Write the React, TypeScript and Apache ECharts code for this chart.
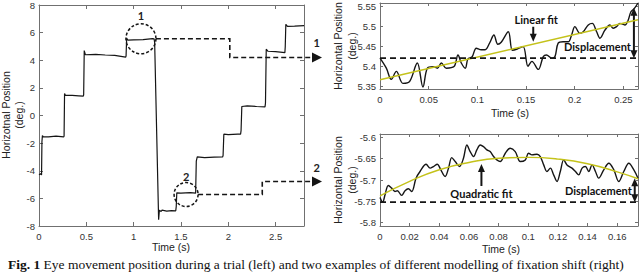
import React, { useEffect, useRef } from "react";
import * as echarts from "echarts";

// ---------- Left panel: full trial ----------
const trialPoints: [number, number][] = [
  [0, -4.3], [0.015, -4.22], [0.027, -4.3], [0.031, -1.9], [0.036, -1.45], [0.045, -1.55],
  [0.1, -1.55], [0.18, -1.5], [0.26, -1.55], [0.265, -1.5], [0.27, 1.6], [0.28, 1.45],
  [0.35, 1.45], [0.42, 1.42], [0.468, 1.4], [0.472, 1.5], [0.478, 4.7], [0.49, 4.4],
  [0.6, 4.42], [0.7, 4.38], [0.8, 4.35], [0.915, 4.22], [0.92, 4.3], [0.926, 5.6],
  [0.94, 5.45], [1.0, 5.47], [1.1, 5.5], [1.2, 5.56], [1.216, 5.55], [1.222, 5.3],
  [1.264, -7.55], [1.272, -6.85], [1.29, -6.95], [1.3, -6.85], [1.35, -6.92], [1.4, -6.88],
  [1.445, -6.9], [1.45, -6.6], [1.456, -5.6], [1.5, -5.62], [1.55, -5.6], [1.6, -5.58],
  [1.655, -5.62], [1.662, -3.3], [1.672, -3.0], [1.75, -3.05], [1.85, -3.02], [1.94, -3.0],
  [1.945, -2.9], [1.953, -1.35], [2.0, -1.38], [2.1, -1.35], [2.13, -1.35], [2.135, -1.1],
  [2.143, 0.65], [2.2, 0.7], [2.3, 0.65], [2.388, 0.62], [2.393, 0.9], [2.401, 4.8],
  [2.42, 4.65], [2.5, 4.62], [2.598, 4.55], [2.602, 5.0], [2.608, 6.6], [2.625, 6.45],
  [2.7, 6.47], [2.8, 6.5],
];
const trialXTicks = [0, 0.5, 1, 1.5, 2, 2.5];
const trialYTicks = [-8, -6, -4, -2, 0, 2, 4, 6, 8];

// ---------- Top right: fixation 1 ----------
const fix1Points: [number, number][] = [
  [0, 5.42], [0.0065, 5.395], [0.0116, 5.367], [0.0168, 5.387], [0.0236, 5.357], [0.0305, 5.362],
  [0.0383, 5.408], [0.0441, 5.348], [0.0486, 5.395], [0.0544, 5.399], [0.0589, 5.395], [0.063, 5.408],
  [0.0681, 5.395], [0.076, 5.399], [0.0801, 5.428], [0.0835, 5.408], [0.0876, 5.395], [0.0903, 5.418],
  [0.0945, 5.423], [0.0989, 5.445], [0.104, 5.441], [0.108, 5.441], [0.1126, 5.458], [0.117, 5.478],
  [0.121, 5.455], [0.1245, 5.46], [0.1318, 5.486], [0.136, 5.44], [0.141, 5.443], [0.147, 5.449],
  [0.152, 5.4], [0.156, 5.412], [0.1626, 5.392], [0.1677, 5.424], [0.171, 5.428], [0.1763, 5.42],
  [0.1797, 5.424], [0.183, 5.4575], [0.188, 5.461], [0.1934, 5.461], [0.1968, 5.478], [0.2002, 5.499],
  [0.2053, 5.482], [0.2088, 5.486], [0.2139, 5.503], [0.218, 5.507], [0.2225, 5.486], [0.2259, 5.47],
  [0.231, 5.49], [0.2361, 5.503], [0.2396, 5.495], [0.243, 5.499], [0.2464, 5.507], [0.2515, 5.503],
  [0.2549, 5.515], [0.2577, 5.536], [0.2611, 5.544], [0.265, 5.558],
];
const fix1LinearFit: [number, number][] = [[0, 5.366], [0.265, 5.516]];
const fix1Baseline = 5.42;
const fix1XTicks = [0, 0.05, 0.1, 0.15, 0.2, 0.25];
const fix1YTicks = [5.35, 5.4, 5.45, 5.5, 5.55];

// ---------- Bottom right: fixation 2 ----------
const fix2Points: [number, number][] = [
  [0, -5.7408], [0.0018, -5.7517], [0.0034, -5.7346], [0.0056, -5.7128], [0.0079, -5.719], [0.0101, -5.7268],
  [0.0117, -5.7252], [0.0146, -5.7361], [0.0169, -5.7252], [0.0191, -5.7206], [0.0214, -5.7268], [0.0243, -5.6957],
  [0.027, -5.6801], [0.0311, -5.663], [0.0338, -5.6723], [0.036, -5.6685], [0.0387, -5.663], [0.041, -5.6762],
  [0.0439, -5.6918], [0.0462, -5.6723], [0.0484, -5.6475], [0.0507, -5.6568], [0.0536, -5.6685], [0.0563, -5.649],
  [0.0586, -5.6179], [0.0608, -5.6334], [0.0631, -5.6451], [0.0653, -5.6296], [0.0676, -5.6179], [0.0698, -5.6218],
  [0.0721, -5.6296], [0.0743, -5.6334], [0.0766, -5.6451], [0.0788, -5.6529], [0.0811, -5.6568], [0.0845, -5.6373],
  [0.0878, -5.6257], [0.0912, -5.6334], [0.0946, -5.6568], [0.098, -5.6529], [0.1002, -5.6373], [0.1025, -5.6412],
  [0.1059, -5.6397], [0.1081, -5.6451], [0.1104, -5.6646], [0.1126, -5.6801], [0.1149, -5.6723], [0.1171, -5.6879],
  [0.1194, -5.7035], [0.1216, -5.6801], [0.1239, -5.6529], [0.1261, -5.6646], [0.1295, -5.6723], [0.1318, -5.6801],
  [0.134, -5.6879], [0.1363, -5.6723], [0.1385, -5.6685], [0.1408, -5.6801], [0.143, -5.6646], [0.1453, -5.6801],
  [0.1475, -5.6957], [0.1509, -5.6762], [0.1543, -5.6607], [0.1577, -5.6762], [0.161, -5.7035], [0.1644, -5.6801],
  [0.1678, -5.6607], [0.1712, -5.6762], [0.174, -5.6957],
];
const fix2QuadraticFit: [number, number][] = [
  [0, -5.737], [0.02, -5.703], [0.04, -5.676], [0.06, -5.659], [0.08, -5.649], [0.1, -5.647],
  [0.12, -5.651], [0.14, -5.662], [0.16, -5.681], [0.174, -5.697],
];
const fix2Baseline = -5.752;
const fix2XTicks = [0, 0.02, 0.04, 0.06, 0.08, 0.1, 0.12, 0.14, 0.16];
const fix2YTicks = [-5.8, -5.75, -5.7, -5.65, -5.6];

const AXIS_COLOR = "#707070";
const LABEL_COLOR = "#333333";
const TICK_FONT = '"Liberation Sans", Arial, sans-serif';
const ANNOT_FONT = 'Lato, "Open Sans", sans-serif';
const INK = "#151515";
const FIT_COLOR = "#c4c21a";

function axisPair(kind: "x" | "y", index: number, min: number, max: number, ticks: number[], tickLen: number) {
  const base: any = {
    type: "value",
    gridIndex: index,
    min,
    max,
    splitLine: { show: false },
    axisLine: { show: true, onZero: false, lineStyle: { color: AXIS_COLOR, width: 1 } },
    axisTick: { show: true, inside: true, length: tickLen, customValues: ticks, lineStyle: { color: AXIS_COLOR } },
  };
  const primary = {
    ...base,
    position: kind === "x" ? "bottom" : "left",
    axisLabel: {
      show: true,
      customValues: ticks,
      margin: kind === "x" ? 5 : 4,
      fontSize: 9.5,
      color: LABEL_COLOR,
      fontFamily: TICK_FONT,
    },
  };
  const mirror = {
    ...base,
    position: kind === "x" ? "top" : "right",
    axisLabel: { show: false },
  };
  return [primary, mirror];
}

export default function App() {
  const ref = useRef<HTMLDivElement>(null);

  useEffect(() => {
    if (!ref.current) return;
    const chart = echarts.init(ref.current, undefined, { renderer: "svg" });

    const xAxis = [
      ...axisPair("x", 0, 0, 2.8, trialXTicks, 4),
      ...axisPair("x", 1, 0, 0.265, fix1XTicks, 3),
      ...axisPair("x", 2, 0, 0.174, fix2XTicks, 3),
    ];
    const yAxis = [
      ...axisPair("y", 0, -8, 8, trialYTicks, 4),
      ...axisPair("y", 1, 5.343, 5.558, fix1YTicks, 3),
      ...axisPair("y", 2, -5.8077, -5.5923, fix2YTicks, 3),
    ];

    const lineBase = { type: "line", symbol: "none", showSymbol: false, silent: true };

    chart.setOption({
      animation: false,
      grid: [
        { left: 39, top: 4, width: 265, height: 222 },
        { left: 380, top: 3, width: 258, height: 86 },
        { left: 380, top: 134, width: 258, height: 92 },
      ],
      xAxis,
      yAxis,
      series: [
        { ...lineBase, xAxisIndex: 0, yAxisIndex: 0, data: trialPoints, lineStyle: { color: INK, width: 1.2 } },
        { ...lineBase, xAxisIndex: 2, yAxisIndex: 2, data: fix1Points, smooth: 0.35, lineStyle: { color: INK, width: 1.4 } },
        { ...lineBase, xAxisIndex: 2, yAxisIndex: 2, data: fix1LinearFit, lineStyle: { color: FIT_COLOR, width: 1.4 } },
        {
          ...lineBase, xAxisIndex: 2, yAxisIndex: 2,
          data: [[0, fix1Baseline], [0.265, fix1Baseline]],
          lineStyle: { color: INK, width: 1.8, type: [6, 4] },
        },
        { ...lineBase, xAxisIndex: 4, yAxisIndex: 4, data: fix2Points, smooth: 0.35, lineStyle: { color: INK, width: 1.4 } },
        { ...lineBase, xAxisIndex: 4, yAxisIndex: 4, data: fix2QuadraticFit, smooth: true, lineStyle: { color: FIT_COLOR, width: 1.4 } },
        {
          ...lineBase, xAxisIndex: 4, yAxisIndex: 4,
          data: [[0, fix2Baseline], [0.174, fix2Baseline]],
          lineStyle: { color: INK, width: 1.8, type: [6, 4] },
        },
      ],
    });

    const px = (si: number, t: number, v: number) => chart.convertToPixel({ seriesIndex: si }, [t, v]) as number[];

    const text = (str: string, x: number, y: number, font: string, opts: any = {}) => ({
      type: "text",
      x,
      y,
      rotation: opts.rotation || 0,
      silent: true,
      style: {
        text: str,
        font,
        fill: opts.fill || "#222",
        align: opts.align || "center",
        textAlign: opts.align || "center",
        verticalAlign: "middle",
        textVerticalAlign: "middle",
      },
    });

    const head = (x: number, y: number, dir: number) => ({
      type: "polygon",
      silent: true,
      shape: { points: [[x - 3.5, y - dir * 8], [x, y], [x + 3.5, y - dir * 8]] },
      style: { fill: INK },
    });
    const vArrow = (x: number, yFrom: number, yTip: number, both: boolean) => {
      const dir = yTip > yFrom ? 1 : -1;
      const els: any[] = [
        {
          type: "line",
          silent: true,
          shape: { x1: x, y1: both ? yFrom + dir * 6 : yFrom, x2: x, y2: yTip - dir * 6 },
          style: { stroke: INK, lineWidth: 2 },
        },
        head(x, yTip, dir),
      ];
      if (both) els.push(head(x, yFrom, -dir));
      return els;
    };

    const TITLE_FONT = '10.5px "Liberation Sans", Arial, sans-serif';
    const LABEL_FONT = `bold 11px ${ANNOT_FONT}`;

    // Left panel annotations
    const c1 = px(0, 1.077, 5.555);
    const c2 = px(0, 1.554, -5.72);
    const p1a = px(0, 2.016, 5.555);
    const p1b = px(0, 2.016, 4.2);
    const p2a = px(0, 2.359, -5.72);
    const p2b = px(0, 2.359, -4.78);
    const arrowTipX = 322;
    const dashStyle = { stroke: INK, lineWidth: 1.6, lineDash: [5, 3], fill: "none" };

    const connector = (pts: number[][], y: number, label: string) => [
      { type: "polyline", silent: true, shape: { points: pts }, style: dashStyle },
      {
        type: "polygon", silent: true,
        shape: { points: [[arrowTipX - 10, y - 5], [arrowTipX, y], [arrowTipX - 10, y + 5]] },
        style: { fill: INK },
      },
      text(label, 316.7, y - 14.5, LABEL_FONT),
    ];

    const lf = px(1, 0.1574, 5.4986);
    const lfTip = px(1, 0.1574, 5.4614);
    const d1a = px(1, 0.2608, fix1Baseline);
    const d1b = px(1, 0.2608, 5.546);
    const qf = px(4, 0.0684, -5.714);
    const qfTip = px(4, 0.0684, -5.6626);
    const d2a = px(4, 0.1718, fix2Baseline);
    const d2b = px(4, 0.1718, -5.6957);

    const graphic: any[] = [
      { type: "circle", silent: true, shape: { cx: c1[0], cy: c1[1], r: 15 }, style: { ...dashStyle, lineWidth: 1.5, lineDash: [3, 2] } },
      text("1", c1[0], c1[1] - 23, LABEL_FONT),
      { type: "circle", silent: true, shape: { cx: c2[0], cy: c2[1], r: 12 }, style: { ...dashStyle, lineWidth: 1.5, lineDash: [3, 2] } },
      text("2", c2[0], c2[1] - 18, LABEL_FONT),
      ...connector([[c1[0] + 15, c1[1]], [p1a[0], p1a[1]], [p1b[0], p1b[1]], [arrowTipX - 10, p1b[1]]], p1b[1], "1"),
      ...connector([[c2[0] + 12, c2[1]], [p2a[0], p2a[1]], [p2b[0], p2b[1]], [arrowTipX - 10, p2b[1]]], p2b[1], "2"),

      text("Horizotnal Position", 6, 115, TITLE_FONT, { rotation: Math.PI / 2 }),
      text("(deg.)", 18.5, 115, TITLE_FONT, { rotation: Math.PI / 2 }),
      text("Time (s)", 171, 247, TITLE_FONT),
      text("Horizontal Position", 337.5, 46, TITLE_FONT, { rotation: Math.PI / 2 }),
      text("(deg.)", 351.5, 46, TITLE_FONT, { rotation: Math.PI / 2 }),
      text("Time (s)", 510, 113, TITLE_FONT),
      text("Horizontal Position", 337.5, 180, TITLE_FONT, { rotation: Math.PI / 2 }),
      text("(deg.)", 351.5, 180, TITLE_FONT, { rotation: Math.PI / 2 }),
      text("Time (s)", 501, 249, TITLE_FONT),

      ...vArrow(lf[0], lf[1], lfTip[1], false),
      text("Linear fit", lf[0] + 3, lf[1] - 7, LABEL_FONT, { fill: "#111" }),
      ...vArrow(d1a[0], d1a[1], d1b[1], true),
      text("Displacement", d1a[0] - 3, d1a[1] - 11.5, LABEL_FONT, { align: "right", fill: "#111" }),
      ...vArrow(qf[0], qf[1], qfTip[1], false),
      text("Quadratic fit", qf[0], qf[1] + 8, LABEL_FONT, { fill: "#111" }),
      ...vArrow(d2a[0], d2a[1], d2b[1], true),
      text("Displacement", d2a[0] - 3, (d2a[1] + d2b[1]) / 2, LABEL_FONT, { align: "right", fill: "#111" }),

      {
        type: "text",
        x: 8,
        y: 257,
        silent: true,
        style: {
          text: "{b|Fig. 1} Eye movement position during a trial (left) and two examples of different modelling of fixation shift (right)",
          font: '13.5px "Liberation Serif", "Times New Roman", serif',
          fill: "#111",
          align: "left",
          textAlign: "left",
          verticalAlign: "top",
          textVerticalAlign: "top",
          rich: { b: { fontWeight: "bold", fontSize: 13.5, fontFamily: '"Liberation Serif", serif' } },
        },
      },
    ];

    chart.setOption({ graphic });

    return () => chart.dispose();
  }, []);

  return (
    <div
      ref={ref}
      style={{ position: "fixed", left: 0, top: 0, width: 640, height: 272, background: "#fff" }}
    />
  );
}
